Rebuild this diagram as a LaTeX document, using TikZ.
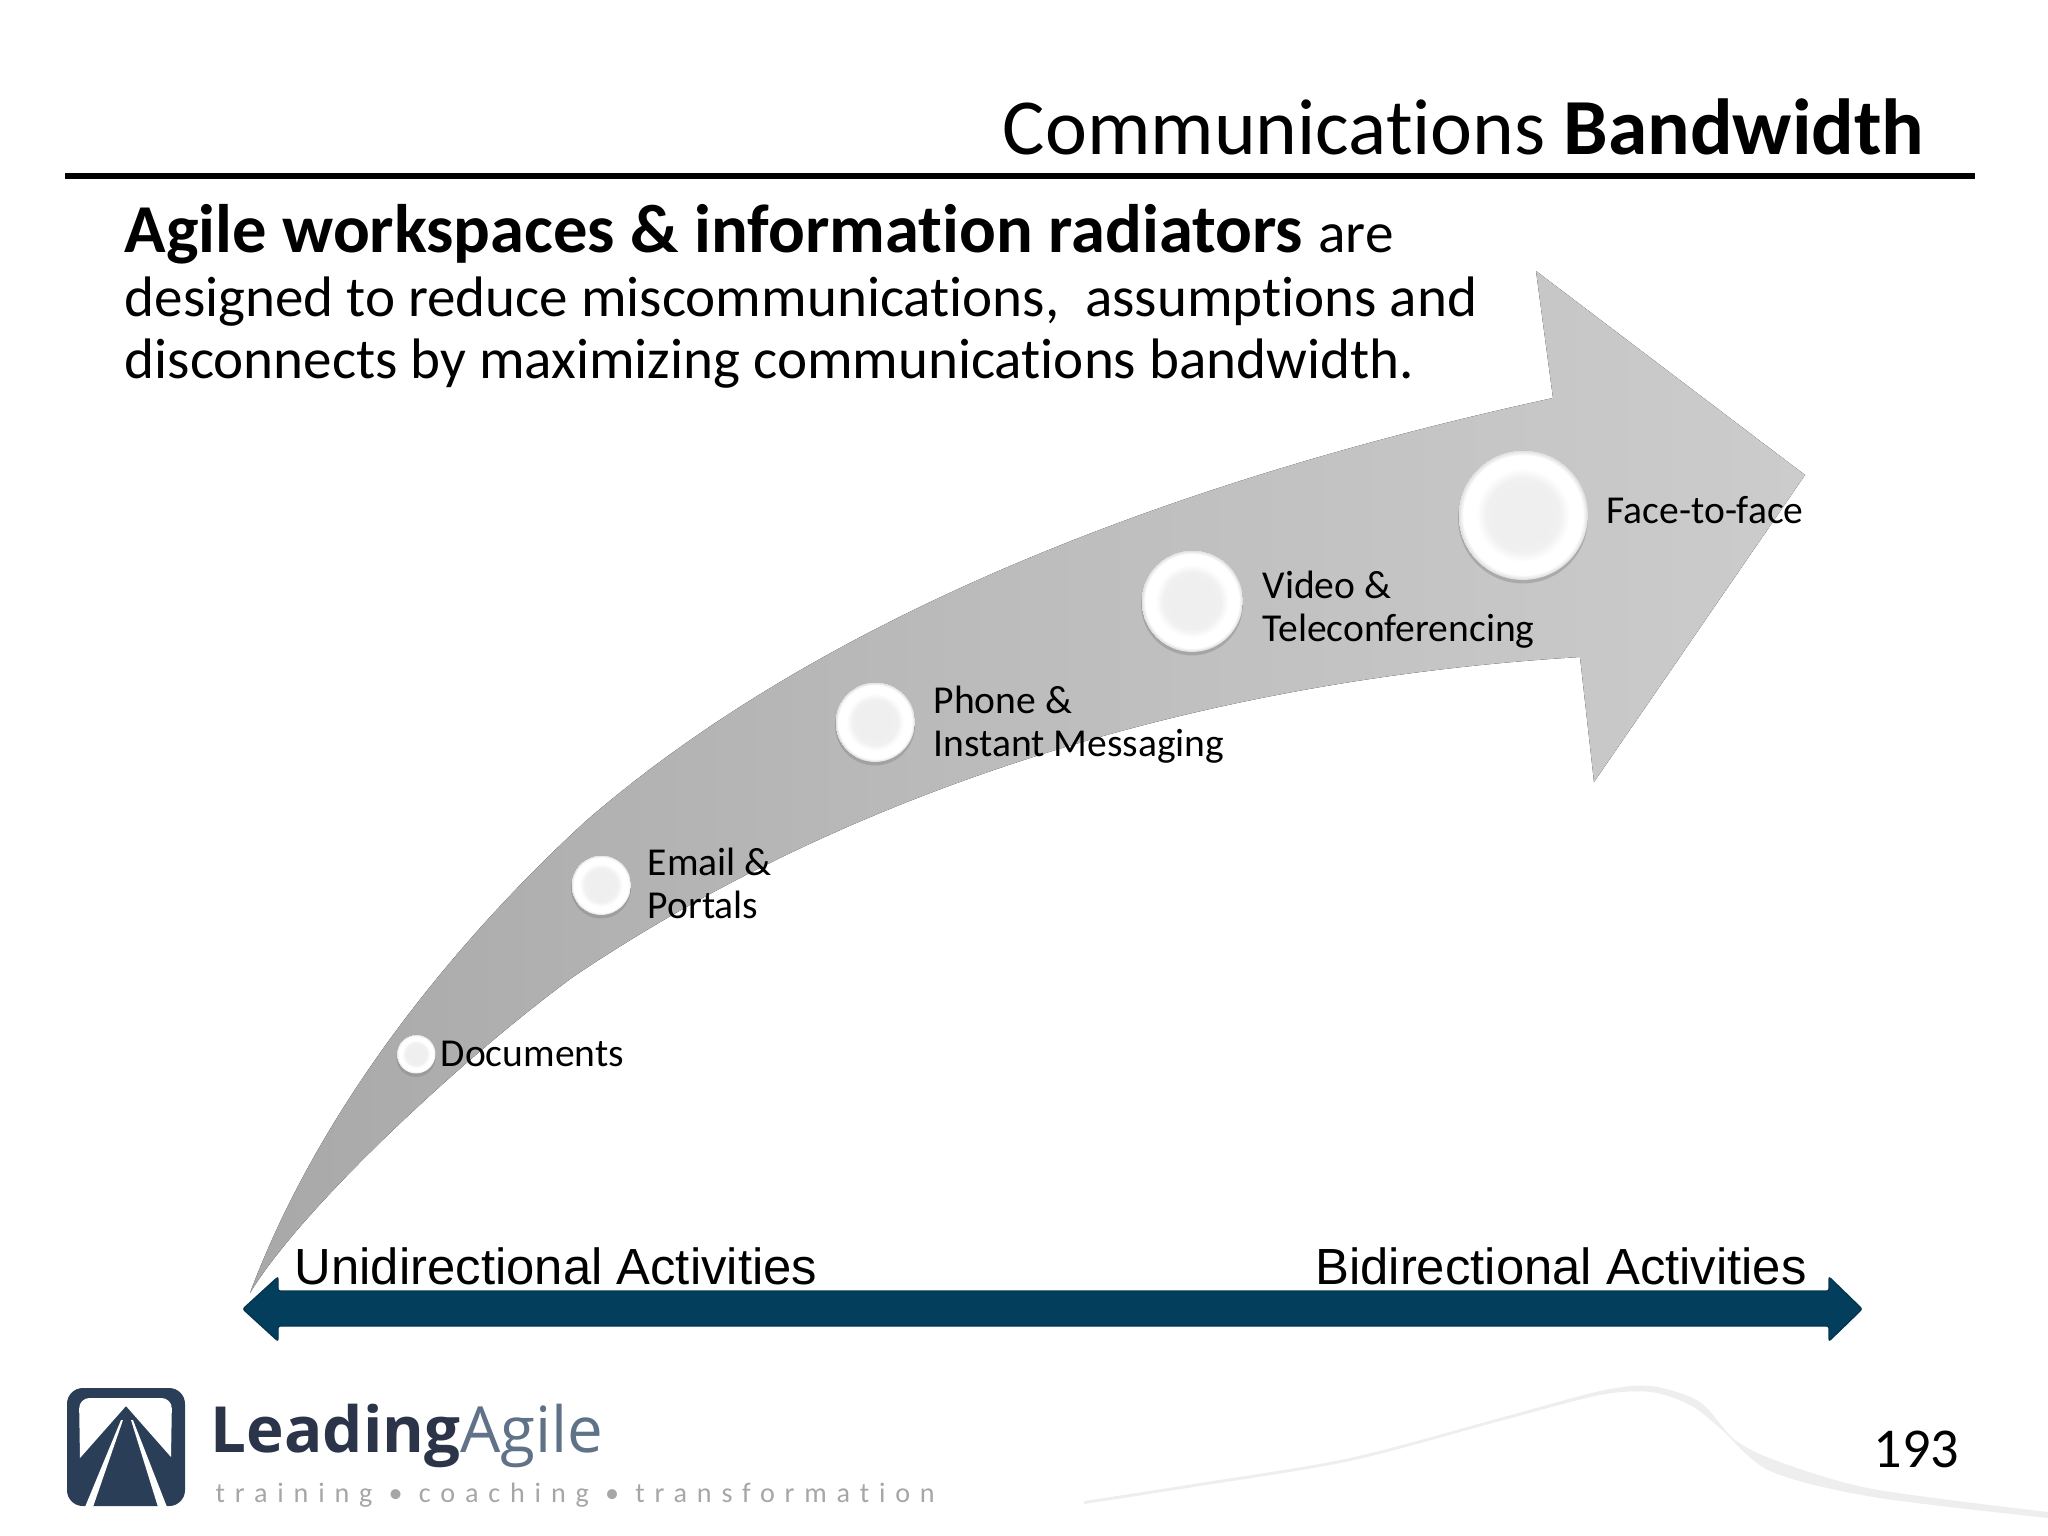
\documentclass[tikz,border=0pt]{standalone}
\usepackage{fontspec}
\usepackage{tikz}
\usetikzlibrary{shadows}
\setmainfont[Ligatures=NoCommon]{Carlito}
\newfontfamily\arialfont{Liberation Sans}
\newfontfamily\logofont{Open Sans}
\newfontfamily\tagfont[LetterSpace=35,Ligatures=NoCommon]{Carlito}
\definecolor{barblue}{HTML}{033F5C}
\definecolor{logoblue}{HTML}{2A3F57}
\definecolor{logoink}{HTML}{2B3448}
\definecolor{logosoft}{HTML}{5F7287}
\pgfdeclareradialshading{pearlshade}{\pgfpoint{0bp}{0bp}}{color(0bp)=(gray!13); color(14bp)=(gray!12); color(18bp)=(white); color(23bp)=(white); color(25bp)=(gray!28)}
\tikzset{
  slidetext/.style={inner sep=0pt, anchor=base west, align=left},
  steplabel/.style={slidetext, font=\fontsize{11.25}{12.2}\selectfont},
  sidelabel/.style={inner sep=0pt, anchor=base, font=\arialfont\fontsize{14.45}{16}\selectfont},
  pearl/.style={circle, inner sep=0pt, shade, shading=pearlshade, drop shadow={shadow xshift=0pt, shadow yshift=-1pt, opacity=0.4}}
}
\begin{document}
\begin{tikzpicture}[x=0.01cm,y=-0.01cm]
\useasboundingbox (0,0) rectangle (2048,1536);
% Titulo y regla
\node[inner sep=0pt, anchor=base east, font=\fontsize{22.6}{28}\selectfont] (title) at (1925,154) {Communications \textbf{Bandwidth}};
\draw[line width=1.6pt] (65,176) -- (1975,176);
% Parrafo
\node[slidetext, font=\fontsize{19.5}{24}\selectfont\bfseries] (leadin) at (124,252) {Agile workspaces \& information radiators \fontsize{16.3}{20}\selectfont\mdseries are};
\node[slidetext, font=\fontsize{16.23}{17.6}\selectfont] (body) at (124,378) {designed to reduce miscommunications,\ \ assumptions and\\disconnects by maximizing communications bandwidth.};
% Flecha curva
\fill[left color=gray!68, right color=gray!40, middle color=gray!52]
  (250,1293) .. controls (325,1093) and (472,925) .. (587,820)
  .. controls (842,600) and (1213,472) .. (1553,398)
  -- (1536,271) -- (1805,475) -- (1594,782) -- (1580,657)
  .. controls (1200,680) and (850,790) .. (573,977)
  .. controls (460,1060) and (300,1210) .. (250,1293) -- cycle;
% Hitos
\node[pearl, minimum size=39pt*0.284] (docs) at (416,1054) {};
\node[pearl, minimum size=60pt*0.284] (email) at (601,885) {};
\node[pearl, minimum size=80pt*0.284] (phone) at (875,722) {};
\node[pearl, minimum size=102pt*0.284] (video) at (1192,601) {};
\node[pearl, minimum size=130pt*0.284] (face) at (1523,515) {};
% Etiquetas
\node[steplabel] (docslabel) at (440,1066) {Documents};
\node[steplabel] (emaillabel) at (647,918) {Email \&\\Portals};
\node[steplabel] (phonelabel) at (933,756) {Phone \&\\Instant Messaging};
\node[steplabel] (videolabel) at (1262,641) {Video \&\\Teleconferencing};
\node[steplabel] (facelabel) at (1606,523) {Face-to-face};
% Barra inferior
\fill[barblue, draw=barblue!85!black, line width=0.4pt, rounded corners=0.6pt] (243,1309) -- (278,1277) -- (278,1291) -- (1829,1291) -- (1829,1277) -- (1862,1309) -- (1829,1341) -- (1829,1326) -- (278,1326) -- (278,1341) -- cycle;
\node[sidelabel] (unilabel) at (556,1284) {Unidirectional Activities};
\node[sidelabel] (bilabel) at (1561,1284) {Bidirectional Activities};
% Logo
\fill[logoblue, rounded corners=4.5pt] (67,1388) rectangle (185,1506);
\fill[white] (80,1458) [rounded corners=3pt] -- (79,1398) -- (172,1398) [sharp corners] -- (171,1457) -- (126,1406) -- cycle;
\fill[white] (121,1420) -- (85,1507) -- (93,1507) -- (123,1420) -- cycle;
\fill[white] (131,1420) -- (158,1507) -- (167,1507) -- (133,1420) -- cycle;
\node[inner sep=0pt, anchor=base west, font=\logofont\fontsize{18.1}{20}\selectfont] (logoname) at (210,1452) {\textcolor{logoink}{\textbf{Leading}}\textcolor{logosoft}{Agile}};
\node[inner sep=0pt, anchor=base west, text=gray!70, font=\tagfont\fontsize{8}{10}\selectfont] (logotag) at (215,1502) {training • coaching • transformation};
% Trazo gris y numero
\fill[gray!13] plot[smooth] coordinates {(1084,1501) (1200,1483) (1350,1458) (1500,1418) (1600,1391) (1651,1386) (1700,1402) (1735,1440) (1780,1462) (1873,1489) (2048,1512)}
  -- plot[smooth] coordinates {(2048,1518) (1873,1497) (1770,1471) (1720,1428) (1690,1405) (1651,1392) (1600,1395) (1500,1421) (1350,1461) (1200,1486) (1084,1504)} -- cycle;
\node[inner sep=0pt, anchor=base east, font=\fontsize{16}{18}\selectfont] (pagenum) at (1960,1467) {193};
\end{tikzpicture}
\end{document}
